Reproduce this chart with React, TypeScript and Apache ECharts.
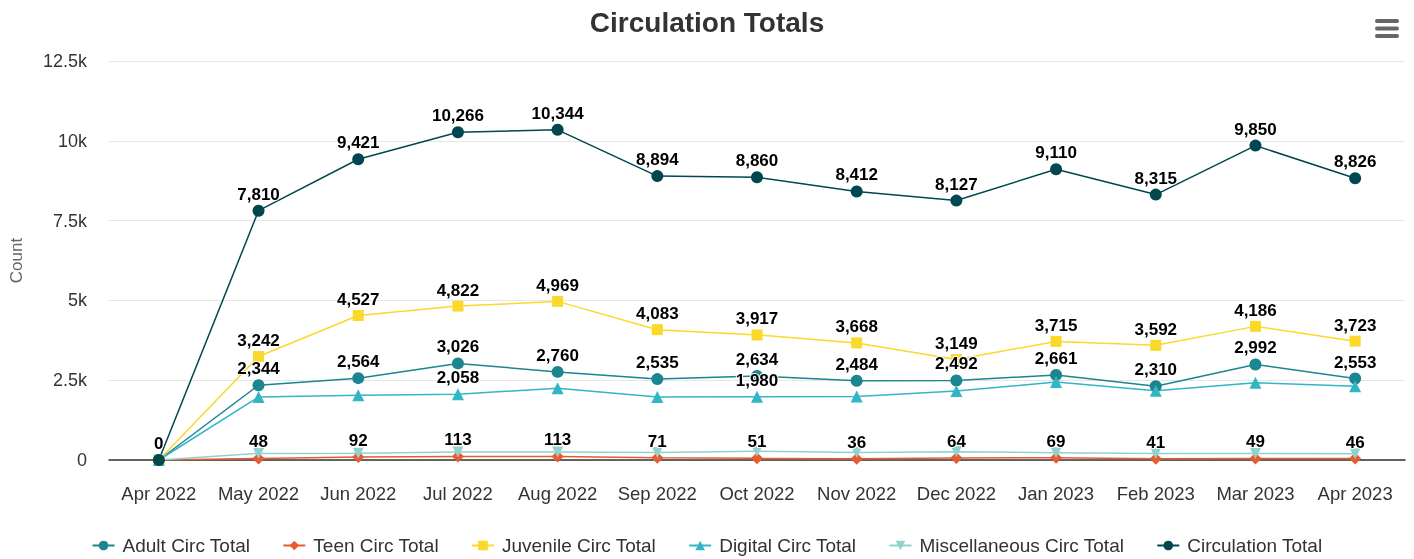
import React, { useEffect, useRef } from "react";
import * as echarts from "echarts";

const categories = ["Apr 2022", "May 2022", "Jun 2022", "Jul 2022", "Aug 2022", "Sep 2022", "Oct 2022", "Nov 2022", "Dec 2022", "Jan 2023", "Feb 2023", "Mar 2023", "Apr 2023"];
const adultCirc = [0, 2344, 2564, 3026, 2760, 2535, 2634, 2484, 2492, 2661, 2310, 2992, 2553];
const teenCirc = [0, 48, 92, 113, 113, 71, 51, 36, 64, 69, 41, 49, 46];
const juvenileCirc = [0, 3242, 4527, 4822, 4969, 4083, 3917, 3668, 3149, 3715, 3592, 4186, 3723];
const digitalCirc = [0, 1970, 2030, 2058, 2250, 1970, 1980, 1990, 2160, 2440, 2170, 2420, 2310];
const miscCirc = [0, 206, 208, 247, 252, 235, 278, 234, 262, 225, 202, 203, 194];
const circulationTotal = [0, 7810, 9421, 10266, 10344, 8894, 8860, 8412, 8127, 9110, 8315, 9850, 8826];
const yTicks = { min: 0, max: 12500, interval: 2500 };

// which points show their data label (the rest were hidden for overlap in the original)
const allButFirst = [1, 2, 3, 4, 5, 6, 7, 8, 9, 10, 11, 12];
const labelShown: Record<string, number[]> = {
  adult: allButFirst,
  teen: allButFirst,
  juvenile: allButFirst,
  digital: [3, 6],
  misc: [],
  total: [0, 1, 2, 3, 4, 5, 6, 7, 8, 9, 10, 11, 12],
};

const FONT = "'Liberation Sans', Arial, Helvetica, sans-serif";
const triDown = "path://M0,0 L10,0 L5,9 Z";

export default function App() {
  const ref = useRef<HTMLDivElement>(null);
  useEffect(() => {
    if (!ref.current) return;
    const chart = echarts.init(ref.current, undefined, { renderer: "svg" });
    const fmt = (v: number) => v.toLocaleString("en-US");
    const mk = (
      name: string,
      data: number[],
      key: string,
      color: string,
      symbol: string,
      size: number
    ) => ({
      name,
      type: "line",
      data: data.map((v, i) => ({
        value: v,
        label: { show: labelShown[key].includes(i) },
      })),
      symbol,
      symbolSize: size,
      showAllSymbol: true,
      itemStyle: { color },
      lineStyle: { color, width: 1.5 },
      label: {
        position: "top",
        distance: 2,
        fontFamily: FONT,
        fontSize: 17,
        fontWeight: "bold",
        color: "#000",
        textBorderColor: "#fff",
        textBorderWidth: 2,
        formatter: (p: any) => fmt(p.value),
      },
      emphasis: { disabled: true },
    });
    chart.setOption({
      animation: false,
      textStyle: { fontFamily: FONT },
      title: {
        text: "Circulation Totals",
        left: "center",
        top: 3,
        textStyle: { fontFamily: FONT, fontSize: 28, fontWeight: "bold", color: "#333" },
      },
      legend: {
        top: 531,
        left: "center",
        itemWidth: 22,
        itemHeight: 12,
        itemGap: 32,
        textStyle: { fontFamily: FONT, fontSize: 19, color: "#333", padding: [0, 0, 0, 3] },
      },
      grid: { left: 108, right: 9, top: 61, bottom: 99, containLabel: false },
      xAxis: {
        type: "category",
        data: categories,
        boundaryGap: true,
        axisLine: { lineStyle: { color: "#333", width: 1.5 } },
        axisTick: { show: false },
        axisLabel: { margin: 24, fontSize: 18.5, color: "#333", fontFamily: FONT, interval: 0 },
      },
      yAxis: {
        type: "value",
        min: yTicks.min,
        max: yTicks.max,
        interval: yTicks.interval,
        name: "Count",
        nameLocation: "middle",
        nameGap: 84,
        nameTextStyle: { fontSize: 17, color: "#666", fontFamily: FONT },
        axisLine: { show: false },
        axisTick: { show: false },
        splitLine: { lineStyle: { color: "#e6e6e6", width: 1 } },
        axisLabel: {
          margin: 22,
          fontSize: 18,
          color: "#333",
          fontFamily: FONT,
          formatter: (v: number) => (v === 0 ? "0" : v / 1000 + "k"),
        },
      },
      graphic: [
        { type: "rect", shape: { x: 1375, y: 19, width: 24, height: 4, r: 2 }, style: { fill: "#666" } },
        { type: "rect", shape: { x: 1375, y: 26.5, width: 24, height: 4, r: 2 }, style: { fill: "#666" } },
        { type: "rect", shape: { x: 1375, y: 34, width: 24, height: 4, r: 2 }, style: { fill: "#666" } },
      ],
      series: [
        mk("Adult Circ Total", adultCirc, "adult", "#1b8590", "circle", 12),
        mk("Teen Circ Total", teenCirc, "teen", "#e85a2f", "diamond", 12),
        mk("Juvenile Circ Total", juvenileCirc, "juvenile", "#fad92a", "rect", 11),
        mk("Digital Circ Total", digitalCirc, "digital", "#32b6c6", "triangle", 12),
        mk("Miscellaneous Circ Total", miscCirc, "misc", "#91d2ce", triDown, 11),
        mk("Circulation Total", circulationTotal, "total", "#02474f", "circle", 12),
      ],
    });
    return () => chart.dispose();
  }, []);
  return (
    <div
      ref={ref}
      style={{ position: "fixed", left: 0, top: 0, width: 1414, height: 559 }}
    />
  );
}
